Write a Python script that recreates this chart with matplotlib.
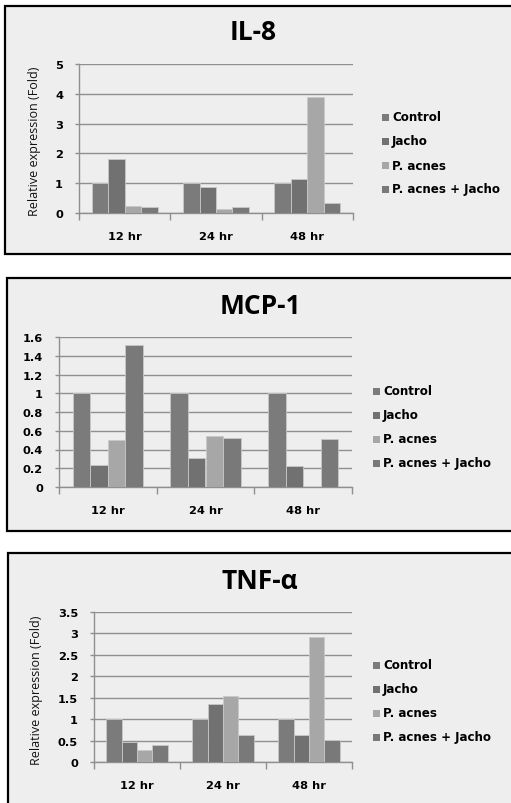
import matplotlib
matplotlib.use("Agg")
import matplotlib.pyplot as plt
from matplotlib.patches import Rectangle
import numpy as np

W, H = 511, 804
DPI = 100

times = ["12 hr", "24 hr", "48 hr"]
series = ["Control", "Jacho", "P. acnes", "P. acnes + Jacho"]
colors = ["#7b7b7b", "#717171", "#a7a7a7", "#797979"]

il8_control = [1.0, 1.0, 1.0]
il8_jacho = [1.8, 0.87, 1.15]
il8_pacnes = [0.23, 0.15, 3.88]
il8_pacnes_jacho = [0.2, 0.2, 0.32]

mcp1_control = [1.0, 1.0, 1.0]
mcp1_jacho = [0.23, 0.31, 0.22]
mcp1_pacnes = [0.50, 0.545, 0.0]
mcp1_pacnes_jacho = [1.52, 0.52, 0.51]

tnf_control = [1.0, 1.0, 1.0]
tnf_jacho = [0.46, 1.36, 0.63]
tnf_pacnes = [0.28, 1.54, 2.92]
tnf_pacnes_jacho = [0.40, 0.63, 0.52]

il8_ticks = [0, 1, 2, 3, 4, 5]
mcp1_ticks = [0, 0.2, 0.4, 0.6, 0.8, 1, 1.2, 1.4, 1.6]
tnf_ticks = [0, 0.5, 1, 1.5, 2, 2.5, 3, 3.5]

panels = [
    dict(title="IL-8", data=[il8_control, il8_jacho, il8_pacnes, il8_pacnes_jacho],
         ticks=il8_ticks, ylabel=True,
         frame=(5, 7, 520, 255), axes=(79, 65, 353, 214), title_xy=(253, 33),
         ylabel_x=35, legend_x=382, legend_y=118),
    dict(title="MCP-1", data=[mcp1_control, mcp1_jacho, mcp1_pacnes, mcp1_pacnes_jacho],
         ticks=mcp1_ticks, ylabel=False,
         frame=(7, 279, 520, 532), axes=(59, 338, 352, 488), title_xy=(260, 307),
         ylabel_x=None, legend_x=373, legend_y=392),
    dict(title="TNF-α", data=[tnf_control, tnf_jacho, tnf_pacnes, tnf_pacnes_jacho],
         ticks=tnf_ticks, ylabel=True,
         frame=(8, 554, 520, 815), axes=(94, 613, 352, 763), title_xy=(260, 582),
         ylabel_x=37, legend_x=373, legend_y=666),
]

fig = plt.figure(figsize=(W / DPI, H / DPI), dpi=DPI)
fig.patch.set_facecolor("white")


def fx(x):
    return x / W


def fy(y):
    return 1 - y / H


grid_color = "#8f8f8f"
bar_w = 0.18

for p in panels:
    x0, y0, x1, y1 = p["frame"]
    fig.patches.append(Rectangle((fx(x0), fy(y1)), fx(x1 - x0), (y1 - y0) / H,
                                 transform=fig.transFigure, facecolor="#eeeeee",
                                 edgecolor="black", linewidth=1.6, zorder=-10))

    ax0, ay0, ax1, ay1 = p["axes"]
    ax = fig.add_axes([fx(ax0), fy(ay1), fx(ax1 - ax0), (ay1 - ay0) / H])
    ax.set_zorder(1)
    ax.set_facecolor("none")
    x = np.arange(len(times))
    for i, (vals, c) in enumerate(zip(p["data"], colors)):
        offs = (i - 1.5) * bar_w
        ax.bar(x + offs, vals, width=bar_w, color=c, edgecolor="#c8c8c8",
               linewidth=0.6, zorder=3)

    ax.set_xlim(-0.5, len(times) - 0.5)
    ax.set_ylim(0, p["ticks"][-1])
    ax.set_yticks(p["ticks"])
    ax.set_yticklabels([f"{t:g}" for t in p["ticks"]])
    ax.yaxis.grid(True, color=grid_color, linewidth=1.0, zorder=1)
    ax.set_axisbelow(True)

    ax.set_xticks(x)
    ax.set_xticklabels(times)
    ax.tick_params(axis="x", length=0, pad=13)
    ax.set_xticks(np.arange(-0.5, len(times) + 0.5, 1), minor=True)
    ax.tick_params(axis="x", which="minor", length=5, color=grid_color, width=1)
    ax.tick_params(axis="y", length=3, color=grid_color, width=1, pad=8.5)
    for lab in ax.get_xticklabels() + ax.get_yticklabels():
        lab.set_fontweight("bold")
        lab.set_fontsize(8.2)
        lab.set_fontfamily("DejaVu Sans")

    for s in ["top", "right"]:
        ax.spines[s].set_visible(False)
    for s in ["left", "bottom"]:
        ax.spines[s].set_color(grid_color)
        ax.spines[s].set_linewidth(1.0)

    tx, ty = p["title_xy"]
    fig.text(fx(tx), fy(ty), p["title"], ha="center", va="center",
             fontsize=19, fontweight="bold", family="Open Sans")

    if p["ylabel"]:
        fig.text(fx(p["ylabel_x"]), fy((ay0 + ay1) / 2 + 2), "Relative expression (Fold)",
                 rotation=90, ha="center", va="center", fontsize=9,
                 family="Open Sans", color="#111111")

    lx, ly = p["legend_x"], p["legend_y"]
    for k, (name, c) in enumerate(zip(series, colors)):
        cy = ly + k * 24
        fig.patches.append(Rectangle((fx(lx), fy(cy + 3.5)), fx(7), 7 / H,
                                     transform=fig.transFigure, facecolor=c,
                                     edgecolor="none", zorder=2))
        fig.text(fx(lx + 10), fy(cy), name, ha="left", va="center",
                 fontsize=8.6, fontweight="bold", family="DejaVu Sans")

fig.savefig("out.png", dpi=DPI, facecolor="white")
